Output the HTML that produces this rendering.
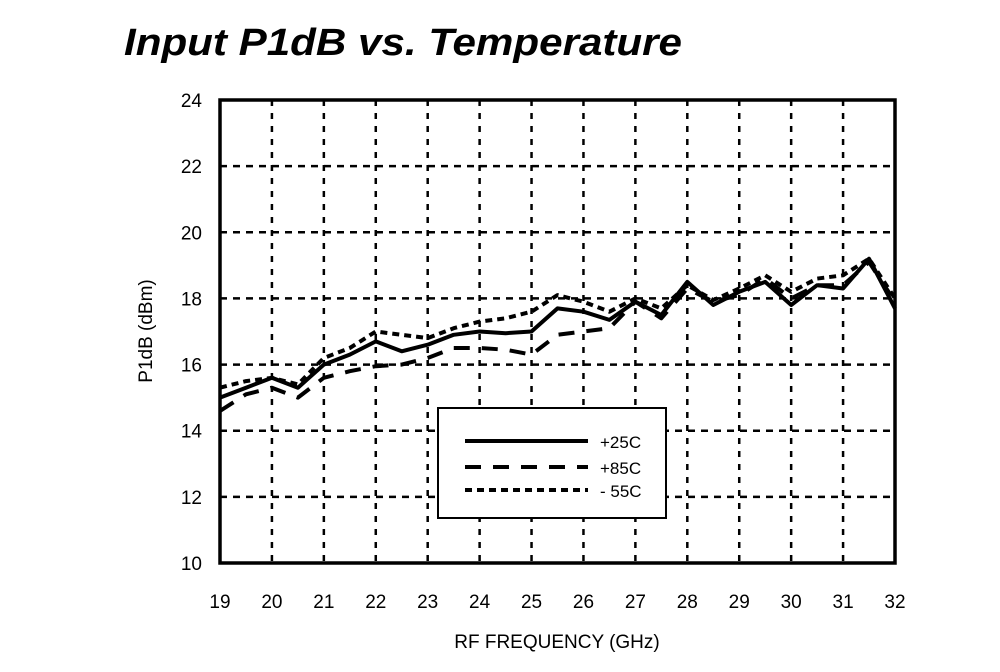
<!DOCTYPE html>
<html><head><meta charset="utf-8"><style>
body{margin:0;background:#fff}
svg text{font-family:"Liberation Sans",Arial,sans-serif;fill:#000}
</style></head><body>
<svg width="1000" height="667" viewBox="0 0 1000 667">
<text x="124" y="55" font-size="38" font-weight="bold" font-style="italic" textLength="558" lengthAdjust="spacingAndGlyphs">Input P1dB vs. Temperature</text>
<g id="grid"></g>
<g id="ticks"></g>
<g id="series"></g>
<rect x="220" y="100" width="675" height="463" fill="none" stroke="#000" stroke-width="3.5"/>
<text transform="translate(152,331) rotate(-90)" text-anchor="middle" font-size="19">P1dB  (dBm)</text>
<text x="557" y="648" text-anchor="middle" font-size="19">RF FREQUENCY (GHz)</text>
<g>
<rect x="438" y="408" width="228" height="110" fill="#fff" stroke="#000" stroke-width="2"/>
<line x1="465" y1="441" x2="588" y2="441" stroke="#000" stroke-width="4"/>
<line x1="465" y1="467" x2="588" y2="467" stroke="#000" stroke-width="4" stroke-dasharray="16,12"/>
<line x1="465" y1="490" x2="588" y2="490" stroke="#000" stroke-width="4" stroke-dasharray="7,5"/>
<text x="600" y="448" font-size="17">+25C</text>
<text x="600" y="474" font-size="17">+85C</text>
<text x="600" y="497" font-size="17">- 55C</text>
</g>
</svg>
<script>
const freqs=[19,19.5,20,20.5,21,21.5,22,22.5,23,23.5,24,24.5,25,25.5,26,26.5,27,27.5,28,28.5,29,29.5,30,30.5,31,31.5,32];
const t25=[15.0,15.3,15.6,15.3,16.0,16.3,16.7,16.4,16.6,16.9,17.0,16.95,17.0,17.7,17.6,17.35,17.9,17.5,18.5,17.8,18.2,18.5,17.8,18.4,18.3,19.2,17.7];
const t85=[14.6,15.1,15.3,15.0,15.6,15.8,15.95,16.0,16.2,16.5,16.5,16.45,16.3,16.9,17.0,17.1,17.9,17.4,18.3,17.9,18.1,18.6,18.0,18.4,18.4,19.1,17.9];
const tm55=[15.3,15.5,15.6,15.4,16.2,16.5,17.0,16.9,16.8,17.1,17.3,17.4,17.6,18.1,17.9,17.6,18.0,17.7,18.4,17.95,18.3,18.7,18.2,18.6,18.7,19.2,18.0];
const xTicks=[19,20,21,22,23,24,25,26,27,28,29,30,31,32];
const yTicks=[10,12,14,16,18,20,22,24];
const NS='http://www.w3.org/2000/svg';
const X=v=>220+(v-19)*675/13;
const Y=v=>563-(v-10)*463/14;
function mk(tag,attrs,parent){const e=document.createElementNS(NS,tag);for(const k in attrs)e.setAttribute(k,attrs[k]);parent.appendChild(e);return e;}
const grid=document.getElementById('grid'),ticks=document.getElementById('ticks'),series=document.getElementById('series');
xTicks.forEach(v=>{
 const l=mk('line',{x1:X(v),x2:X(v),y1:100,y2:563,stroke:'#000','stroke-width':2.5,'stroke-dasharray':'6,7'},grid);
 
 
 const t=mk('text',{x:X(v),y:608,'text-anchor':'middle','font-size':19},ticks);t.textContent=v;
 
 
});
yTicks.forEach(v=>{
 const l=mk('line',{x1:220,x2:895,y1:Y(v),y2:Y(v),stroke:'#000','stroke-width':2.5,'stroke-dasharray':'7,6'},grid);
 
 
 const t=mk('text',{x:202,y:Y(v)+7,'text-anchor':'end','font-size':19},ticks);t.textContent=v;
 
 
});
function line(vals,dash,name){
 const d=vals.map((v,i)=>(i?'L':'M')+X(freqs[i]).toFixed(1)+','+Y(v).toFixed(1)).join(' ');
 const p=mk('path',{d:d,fill:'none',stroke:'#000','stroke-width':4,'stroke-linejoin':'round'},series);
 if(dash)p.setAttribute('stroke-dasharray',dash);
 
 
}
line(tm55,'7,5','series-m55c');
line(t85,'16,12','series-85c');
line(t25,null,'series-25c');
</script>
</body></html>
